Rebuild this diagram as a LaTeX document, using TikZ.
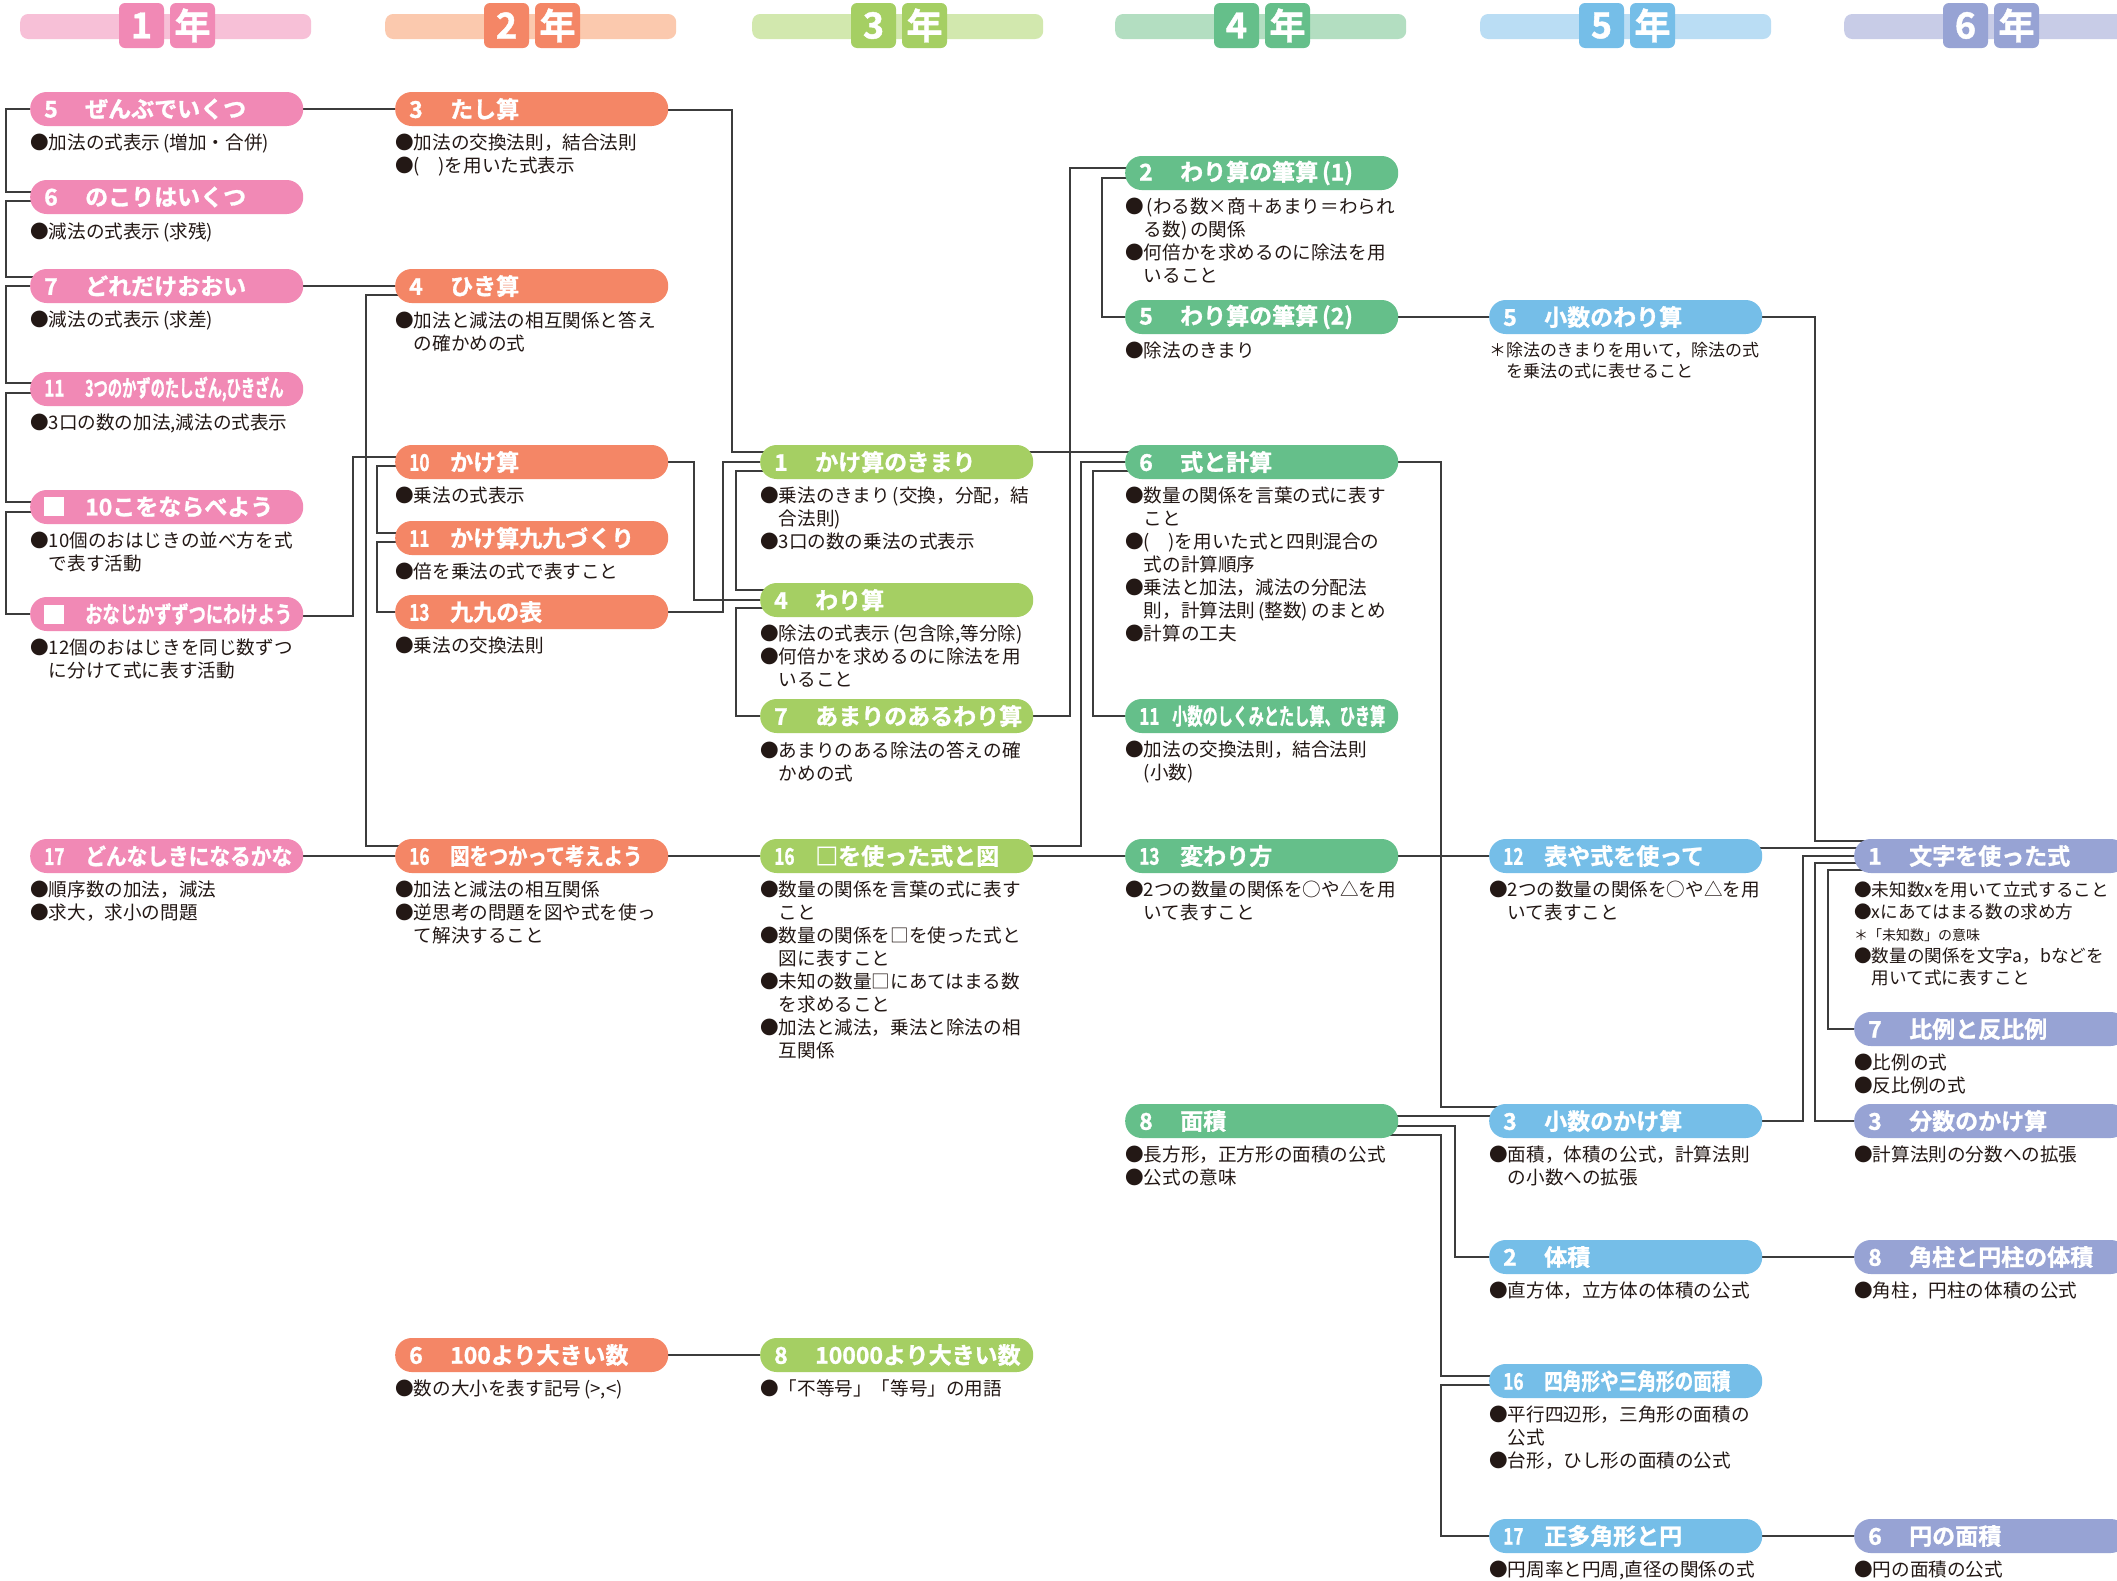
\documentclass[tikz,border=0pt]{standalone}
\usepackage{fontspec}
\usepackage{graphicx}
\setmainfont{Noto Sans CJK JP}
\newfontfamily\jpb{Noto Sans CJK JP Bold}[FakeBold=1.2]
\usetikzlibrary{calc}
\pgfdeclarelayer{bg}
\pgfsetlayers{bg,main}
\definecolor{pk}{HTML}{F189B5}\definecolor{pkl}{HTML}{F7C0D7}
\definecolor{og}{HTML}{F48666}\definecolor{ogl}{HTML}{FBC9AE}
\definecolor{lg}{HTML}{A5CF63}\definecolor{lgl}{HTML}{D2E8AE}
\definecolor{gr}{HTML}{65BF8A}\definecolor{grl}{HTML}{B3DEC1}
\definecolor{bl}{HTML}{75BEE8}\definecolor{bll}{HTML}{BADDF4}
\definecolor{pu}{HTML}{97A3D4}\definecolor{pul}{HTML}{C8CCE7}
\definecolor{ln}{HTML}{3C3C3C}
\definecolor{tx}{HTML}{231815}
\tikzset{
  pill/.style={fill=#1, rounded corners=16.5pt, minimum height=34pt, inner xsep=14pt, inner ysep=0pt, anchor=west, text=white, font=\jpb\fontsize{23pt}{23pt}\selectfont},
  desc/.style={anchor=north west, inner sep=0pt, align=left, text=tx, font=\fontsize{18.6pt}{23pt}\selectfont},
  conn/.style={draw=ln, line width=1.6pt},
  hbar/.style={fill=#1, rounded corners=8pt, minimum width=291pt, minimum height=25pt, inner sep=0pt, anchor=west},
  hsq/.style={fill=#1, rounded corners=6pt, minimum width=45pt, minimum height=45pt, inner sep=0pt, text=white, font=\jpb\fontsize{36pt}{36pt}\selectfont},
}
\newcommand\tnum[1]{\makebox[41pt][l]{#1}}
\newcommand\tnumw[1]{\makebox[33pt][l]{#1}}
\newcommand\dd[1]{\scalebox{0.75}[1]{#1}}
\newcommand\hind{\hspace*{1em}}
\newcommand\wsq{\rule[-1pt]{20pt}{19pt}}
\newcommand\topic[7][]{%
  \node[pill=#3] (#2) at (#4,#5) {\makebox[245pt][l]{#6}};
  \node[desc,#1] (#2d) at (#4,#5+25) {#7};}
\newcommand\elb[5]{\draw[conn] let \p1=($(#1)+(0,#2)$), \p2=($(#4)+(0,#5)$) in (\p1) -- (#3pt,\y1) -- (#3pt,\y2) -- (\p2);}
\newcommand\hln[3]{\draw[conn] ($(#1)+(0,#3)$) -- ($(#2)+(0,#3)$);}
\newcommand\yr[5]{%
  \node[hbar=#3] (#1) at (#2,26.5) {};
  \node[hsq=#4] (#1n) at (#2+121.5,25.5) {#5};
  \node[hsq=#4] (#1y) at (#2+172.5,25.5) {年};}
\begin{document}
\begin{tikzpicture}[x=1pt,y=-1pt]
\useasboundingbox (0,0) rectangle (2117,1580);
\begin{pgfonlayer}{bg}
\fill[white] (0,0) rectangle (2117,1580);
\end{pgfonlayer}
% headers
\yr{h1}{20}{pkl}{pk}{1}
\yr{h2}{385}{ogl}{og}{2}
\yr{h3}{752}{lgl}{lg}{3}
\yr{h4}{1115}{grl}{gr}{4}
\yr{h5}{1480}{bll}{bl}{5}
\yr{h6}{1844}{pul}{pu}{6}
% column 1
\topic{a5}{pk}{30}{109}{\tnum{5}ぜんぶでいくつ}{●加法の式表示\,(増加・合併)}
\topic{a6}{pk}{30}{197}{\tnum{6}のこりはいくつ}{●減法の式表示\,(求残)}
\topic{a7}{pk}{30}{286}{\tnum{7}どれだけおおい}{●減法の式表示\,(求差)}
\topic{a11}{pk}{30}{389}{\tnum{\dd{11}}\scalebox{0.62}[1]{3つのかずのたしざん,ひきざん}}{●3口の数の加法,減法の式表示}
\topic{a10}{pk}{30}{507}{\tnum{\wsq}10こをならべよう}{●10個のおはじきの並べ方を式\\\hind で表す活動}
\topic{aw}{pk}{30}{614}{\tnum{\wsq}\scalebox{0.75}[1]{おなじかずずつにわけよう}}{●12個のおはじきを同じ数ずつ\\\hind に分けて式に表す活動}
\topic{a17}{pk}{30}{856}{\tnum{\dd{17}}\scalebox{0.9}[1]{どんなしきになるかな}}{●順序数の加法，減法\\●求大，求小の問題}
% column 2
\topic{b3}{og}{395}{109}{\tnum{3}たし算}{●加法の交換法則，結合法則\\●(　)を用いた式表示}
\topic{b4}{og}{395}{286}{\tnum{4}ひき算}{●加法と減法の相互関係と答え\\\hind の確かめの式}
\topic{b10}{og}{395}{462}{\tnum{\dd{10}}かけ算}{●乗法の式表示}
\topic{b11}{og}{395}{538}{\tnum{\dd{11}}かけ算九九づくり}{●倍を乗法の式で表すこと}
\topic{b13}{og}{395}{612}{\tnum{\dd{13}}九九の表}{●乗法の交換法則}
\topic{b16}{og}{395}{856}{\tnum{\dd{16}}\scalebox{0.84}[1]{図をつかって考えよう}}{●加法と減法の相互関係\\●逆思考の問題を図や式を使っ\\\hind て解決すること}
\topic{b6}{og}{395}{1355}{\tnum{6}100より大きい数}{●数の大小を表す記号\,(>,<)}
% column 3
\topic{c1}{lg}{760}{462}{\tnum{1}かけ算のきまり}{●乗法のきまり\,(交換，分配，結\\\hind 合法則)\\●3口の数の乗法の式表示}
\topic{c4}{lg}{760}{600}{\tnum{4}わり算}{●除法の式表示\,(包含除,等分除)\\●何倍かを求めるのに除法を用\\\hind いること}
\topic{c7}{lg}{760}{716}{\tnum{7}あまりのあるわり算}{●あまりのある除法の答えの確\\\hind かめの式}
\topic{c16}{lg}{760}{856}{\tnum{\dd{16}}□を使った式と図}{●数量の関係を言葉の式に表す\\\hind こと\\●数量の関係を□を使った式と\\\hind 図に表すこと\\●未知の数量□にあてはまる数\\\hind を求めること\\●加法と減法，乗法と除法の相\\\hind 互関係}
\topic{c8}{lg}{760}{1355}{\tnum{8}10000より大きい数}{●「不等号」「等号」の用語}
% column 4
\topic{d2}{gr}{1125}{173}{\tnum{2}わり算の筆算\,(1)}{●\,(わる数×商＋あまり＝わられ\\\hind る数)\,の関係\\●何倍かを求めるのに除法を用\\\hind いること}
\topic{d5}{gr}{1125}{317}{\tnum{5}わり算の筆算\,(2)}{●除法のきまり}
\topic{d6}{gr}{1125}{462}{\tnum{6}式と計算}{●数量の関係を言葉の式に表す\\\hind こと\\●(　)を用いた式と四則混合の\\\hind 式の計算順序\\●乗法と加法，減法の分配法\\\hind 則，計算法則\,(整数)\,のまとめ\\●計算の工夫}
\topic{d11}{gr}{1125}{716}{\tnumw{\dd{11}}\scalebox{0.66}[1]{小数のしくみとたし算、ひき算}}{●加法の交換法則，結合法則\\\hind(小数)}
\topic{d13}{gr}{1125}{856}{\tnum{\dd{13}}変わり方}{●2つの数量の関係を○や△を用\\\hind いて表すこと}
\topic{d8}{gr}{1125}{1121}{\tnum{8}面積}{●長方形，正方形の面積の公式\\●公式の意味}
% column 5
\topic[font=\fontsize{17pt}{21pt}\selectfont]{e5}{bl}{1489}{317}{\tnum{5}小数のわり算}{＊除法のきまりを用いて，除法の式\\\hind を乗法の式に表せること}
\topic{e12}{bl}{1489}{856}{\tnum{\dd{12}}表や式を使って}{●2つの数量の関係を○や△を用\\\hind いて表すこと}
\topic{e3}{bl}{1489}{1121}{\tnum{3}小数のかけ算}{●面積，体積の公式，計算法則\\\hind の小数への拡張}
\topic{e2}{bl}{1489}{1257}{\tnum{2}体積}{●直方体，立方体の体積の公式}
\topic{e16}{bl}{1489}{1381}{\tnum{\dd{16}}\scalebox{0.81}[1]{四角形や三角形の面積}}{●平行四辺形，三角形の面積の\\\hind 公式\\●台形，ひし形の面積の公式}
\topic{e17}{bl}{1489}{1536}{\tnum{\dd{17}}正多角形と円}{●円周率と円周,直径の関係の式}
% column 6
\topic[font=\fontsize{17.6pt}{22pt}\selectfont]{f1}{pu}{1854}{856}{\tnum{1}文字を使った式}{●未知数xを用いて立式すること\\●xにあてはまる数の求め方\\{\fontsize{14pt}{18pt}\selectfont ＊「未知数」の意味}\\●数量の関係を文字a，bなどを\\\hind 用いて式に表すこと}
\topic{f7}{pu}{1854}{1029}{\tnum{7}比例と反比例}{●比例の式\\●反比例の式}
\topic{f3}{pu}{1854}{1121}{\tnum{3}分数のかけ算}{●計算法則の分数への拡張}
\topic{f8}{pu}{1854}{1257}{\tnum{8}角柱と円柱の体積}{●角柱，円柱の体積の公式}
\topic{f6}{pu}{1854}{1536}{\tnum{6}円の面積}{●円の面積の公式}
% connectors
\begin{pgfonlayer}{bg}
\elb{a5}{0}{6}{a6}{-5}
\elb{a6}{4}{6}{a7}{-9}
\elb{a7}{0}{6}{a11}{-6}
\elb{a11}{4}{6}{a10}{-5}
\elb{a10}{5}{6}{aw}{0}
\hln{a5}{b3}{0}
\hln{a7}{b4}{0}
\hln{a17}{b16}{0}
\elb{aw}{2}{353}{b10}{-5}
\elb{b4}{9}{366}{b16}{-10}
\elb{b10}{4}{377}{b11}{-5}
\elb{b11}{4}{377}{b13}{0}
\elb{b3}{1}{732}{c1}{-10}
\elb{b10}{0}{694}{c4}{0}
\elb{b13}{0}{723}{c1}{0}
\elb{c1}{9}{736}{c4}{-10}
\elb{c4}{8}{736}{c7}{0}
\hln{b16}{c16}{0}
\hln{b6}{c8}{0}
\hln{c1}{d6}{-10}
\elb{c7}{0}{1070}{d2}{-5}
\elb{d2}{5}{1102}{d5}{0}
\elb{c16}{-10}{1081}{d6}{0}
\hln{c16}{d13}{0}
\elb{d6}{9}{1093}{d11}{0}
\hln{d5}{e5}{0}
\elb{e5}{0}{1815}{f1}{-15}
\hln{e12}{f1}{-8}
\elb{e3}{0}{1803}{f1}{0}
\elb{f1}{7}{1815}{f3}{0}
\elb{f1}{14}{1828}{f7}{0}
\hln{d13}{e12}{0}
\elb{d6}{0}{1441}{e3}{-14}
\hln{d8}{e3}{-5}
\elb{d8}{5}{1455}{e2}{0}
\elb{d8}{14}{1441}{e16}{-5}
\elb{e16}{4}{1441}{e17}{0}
\hln{e2}{f8}{0}
\hln{e17}{f6}{0}
\end{pgfonlayer}
\end{tikzpicture}
\end{document}
